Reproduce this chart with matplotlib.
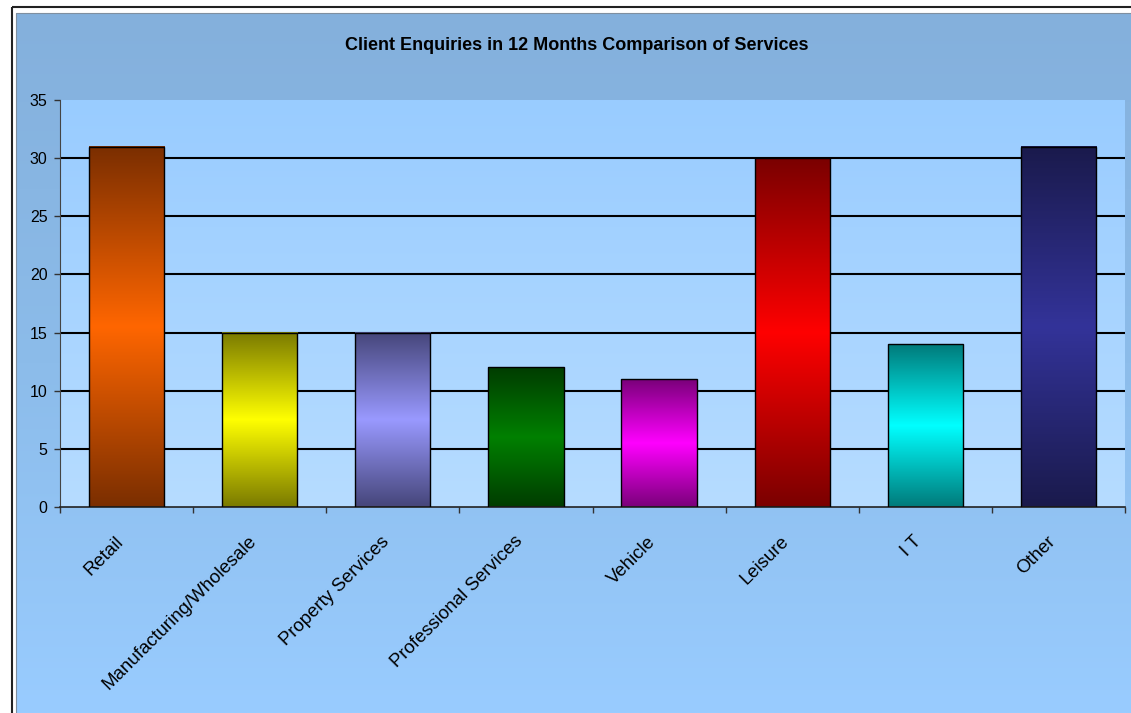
import matplotlib.pyplot as plt
import numpy as np
from matplotlib.colors import LinearSegmentedColormap
from matplotlib.patches import Rectangle

categories = [
    "Retail", "Manufacturing/Wholesale", "Property Services",
    "Professional Services", "Vehicle", "Leisure", "I T", "Other",
]
enquiries = [31, 15, 15, 12, 11, 30, 14, 31]
bar_dark = ["#7A2E00", "#7A7A00", "#46467A", "#003C00",
            "#7A007A", "#7A0000", "#007A7A", "#1A1A4C"]
bar_light = ["#FF6600", "#FFFF00", "#9999FF", "#008000",
             "#FF00FF", "#FF0000", "#00FFFF", "#333399"]

plt.rcParams["font.family"] = ["Liberation Sans", "DejaVu Sans"]

W, H = 1131, 713
fig = plt.figure(figsize=(W / 100, H / 100), dpi=100)
fig.patch.set_facecolor("white")

# chart area background and border, drawn in pixel coords
bg = fig.add_axes([0, 0, 1, 1], zorder=0)
grad = np.linspace(0, 1, 256).reshape(-1, 1)
bg_cmap = LinearSegmentedColormap.from_list("bg", ["#84B0DC", "#8CBCEA", "#99CCFF"])
bg.imshow(grad, cmap=bg_cmap, extent=[17, W, H, 14], aspect="auto")
bg.add_patch(Rectangle((12, 7), W, H, fill=False, ec="#222222", lw=1.5))
bg.add_patch(Rectangle((16, 13), W, H, fill=False, ec="#7F8FA0", lw=0.8))
bg.set_xlim(0, W)
bg.set_ylim(H, 0)
bg.axis("off")

fig.text(577 / W, 1 - 46 / H, "Client Enquiries in 12 Months Comparison of Services",
         ha="center", va="center", fontsize=13, fontweight="bold")

ax = fig.add_axes([60 / W, 206 / H, 1065 / W, 407 / H], zorder=1)
ax.patch.set_visible(False)
x = np.arange(len(categories))
ax.set_xlim(-0.5, len(categories) - 0.5)
ax.set_ylim(0, 35)

plot_cmap = LinearSegmentedColormap.from_list("plot", ["#99CCFF", "#B6DCFF"])
ax.imshow(grad, cmap=plot_cmap, extent=[-0.5, len(categories) - 0.5, 0, 35],
          aspect="auto", zorder=0)

ax.set_yticks(np.arange(0, 36, 5))
for yv in ax.get_yticks():
    if 0 < yv < 35:
        ax.axhline(yv, color="black", lw=1.5, zorder=1)

width = 0.565
bars = ax.bar(x, enquiries, width=width, facecolor="none",
              edgecolor="black", linewidth=1, zorder=3)
for bar, dark, light in zip(bars, bar_dark, bar_light):
    cm = LinearSegmentedColormap.from_list("b", [dark, light, dark])
    x0 = bar.get_x()
    ax.imshow(grad, cmap=cm, extent=[x0, x0 + bar.get_width(), 0, bar.get_height()],
              aspect="auto", zorder=2)
ax.set_xlim(-0.5, len(categories) - 0.5)
ax.set_ylim(0, 35)

# labels sit a little left of the bar centres, as in the original
ax.set_xticks(x - 0.045)
ax.set_xticklabels(categories, rotation=45, ha="right", va="center",
                   rotation_mode="anchor", fontsize=13.4)
ax.set_xticks(np.arange(-0.5, len(categories)), minor=True)
ax.tick_params(axis="x", which="major", length=0, pad=23)
ax.tick_params(axis="x", which="minor", length=4, color="#333333", width=1)
ax.tick_params(axis="y", length=4, color="#333333", width=1, labelsize=11.5, pad=5)

for side in ["top", "right"]:
    ax.spines[side].set_visible(False)
ax.spines["left"].set_color("#444444")
ax.spines["bottom"].set_color("#222222")
ax.spines["bottom"].set_linewidth(1.2)

plt.savefig("out.png", dpi=100)
